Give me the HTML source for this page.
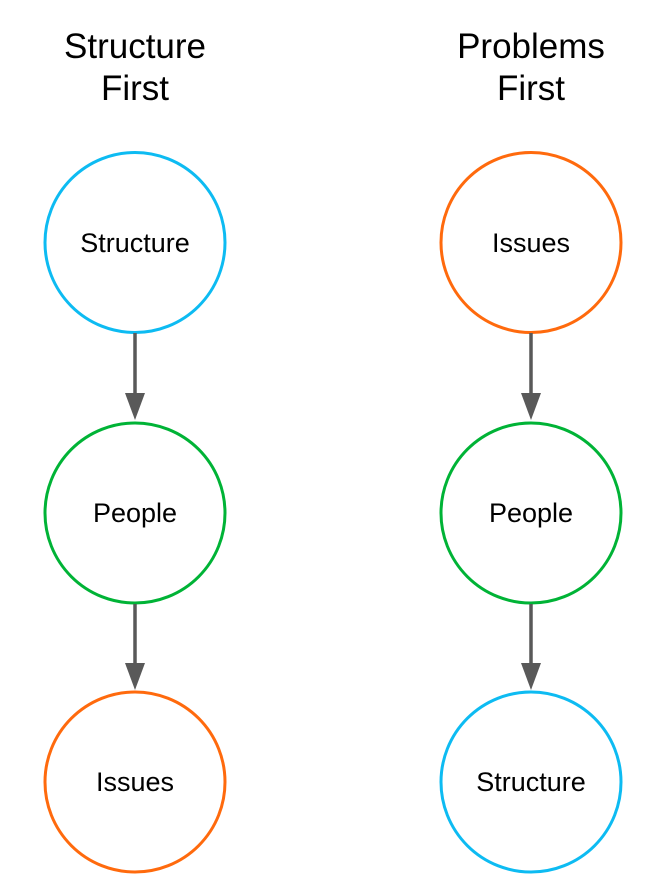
<!DOCTYPE html>
<html><head><meta charset="utf-8"><style>
html,body{margin:0;padding:0;background:#fff;}
svg{display:block;}
text{font-family:"Liberation Sans",Arial,sans-serif;fill:#000;}
</style></head><body>
<svg width="666" height="884" viewBox="0 0 666 884" xmlns="http://www.w3.org/2000/svg">
<g text-anchor="middle">
<text x="135" y="58" font-size="35">Structure</text>
<text x="135" y="100" font-size="35">First</text>
<text x="531" y="58" font-size="35">Problems</text>
<text x="531" y="100" font-size="35">First</text>
</g>
<g fill="#fff" stroke-width="3">
<circle cx="135" cy="242.5" r="90" stroke="#0DBBF2"/>
<circle cx="135" cy="513" r="90" stroke="#00B336"/>
<circle cx="135" cy="782" r="90" stroke="#FF6A0D"/>
<circle cx="531" cy="242.5" r="90" stroke="#FF6A0D"/>
<circle cx="531" cy="513" r="90" stroke="#00B336"/>
<circle cx="531" cy="782" r="90" stroke="#0DBBF2"/>
</g>
<g stroke="#595959" stroke-width="3.5" fill="#595959">
<line x1="135" y1="333" x2="135" y2="396"/>
<line x1="135" y1="604" x2="135" y2="665"/>
<line x1="531" y1="333" x2="531" y2="396"/>
<line x1="531" y1="604" x2="531" y2="665"/>
</g>
<g fill="#595959">
<polygon points="125,393 145,393 135,420"/>
<polygon points="125,663 145,663 135,690"/>
<polygon points="521,393 541,393 531,420"/>
<polygon points="521,663 541,663 531,690"/>
</g>
<g text-anchor="middle" font-size="27">
<text x="135" y="252">Structure</text>
<text x="135" y="522">People</text>
<text x="135" y="791">Issues</text>
<text x="531" y="252">Issues</text>
<text x="531" y="522">People</text>
<text x="531" y="791">Structure</text>
</g>
</svg>
</body></html>
